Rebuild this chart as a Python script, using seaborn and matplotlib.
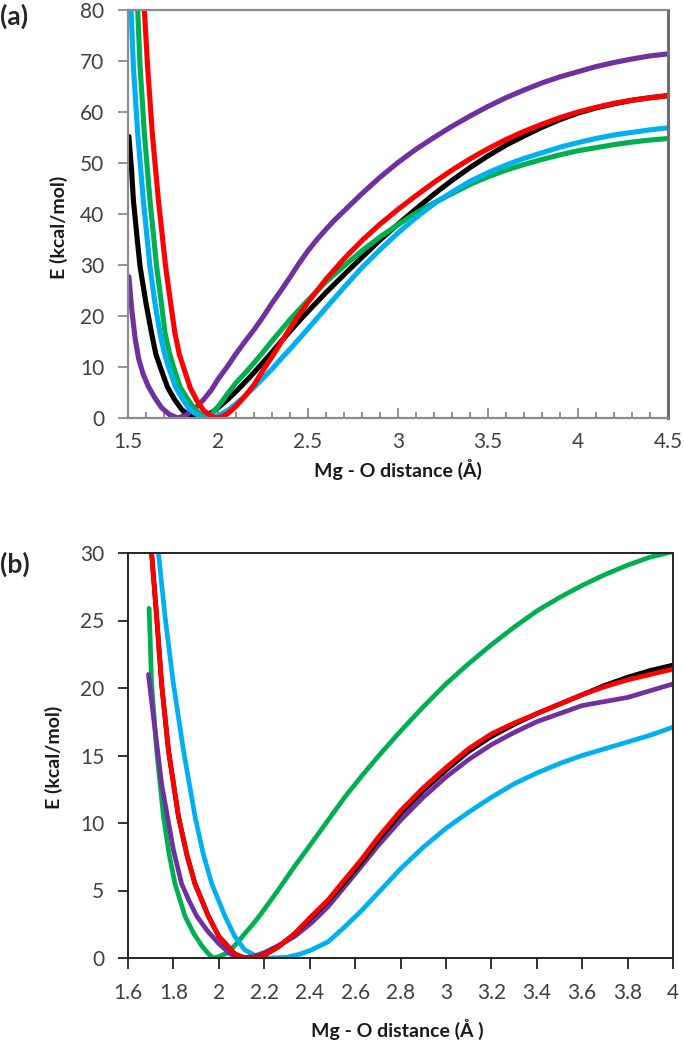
import matplotlib
matplotlib.use('Agg')

import matplotlib.pyplot as plt
from matplotlib.ticker import MultipleLocator, FuncFormatter
import seaborn as sns
import pandas as pd

# ---- panel (a): Mg - O distance (A) vs E (kcal/mol), x 1.5 .. 4.5 ----
a_black_x = [1.505, 1.52, 1.53, 1.55, 1.567, 1.60, 1.631, 1.655, 1.678, 1.72, 1.761, 1.80, 1.826, 1.86, 1.89,
             1.93, 1.97, 2.0, 2.05, 2.1, 2.15, 2.2, 2.25, 2.3, 2.35, 2.4, 2.45, 2.5, 2.6, 2.7, 2.8, 2.9, 3.0,
             3.1, 3.2, 3.3, 3.4, 3.5, 3.6, 3.7, 3.8, 3.9, 4.0, 4.1, 4.2, 4.3, 4.4, 4.5]
a_black_y = [55.2, 48.5, 42.7, 35.5, 29.7, 22.5, 16.6, 12.5, 10.1, 6.0, 3.5, 1.6, 0.9, 0.1, 0.0,
             0.4, 1.2, 2.0, 3.5, 5.2, 7.0, 8.9, 10.9, 12.9, 15.0, 17.0, 19.0, 20.9, 24.6, 28.1, 31.5, 34.9, 38.0,
             41.0, 43.9, 46.6, 49.1, 51.4, 53.5, 55.3, 57.0, 58.5, 59.8, 60.8, 61.6, 62.3, 62.8, 63.2]

a_purple_x = [1.505, 1.52, 1.54, 1.56, 1.585, 1.613, 1.65, 1.687, 1.73, 1.775, 1.82, 1.87, 1.92, 1.963,
              2.0, 2.05, 2.1, 2.15, 2.2, 2.25, 2.3, 2.35, 2.4, 2.45, 2.5, 2.55, 2.6, 2.65, 2.7, 2.8, 2.9,
              3.0, 3.1, 3.2, 3.3, 3.4, 3.5, 3.6, 3.7, 3.8, 3.9, 4.0, 4.1, 4.2, 4.3, 4.4, 4.5]
a_purple_y = [27.7, 21.5, 15.5, 11.5, 8.5, 6.2, 3.9, 2.0, 0.7, 0.0, 0.5, 1.8, 3.6, 5.5,
              7.6, 10.0, 12.6, 15.0, 17.3, 19.8, 22.5, 25.0, 27.6, 30.3, 32.8, 35.0, 37.0, 38.9, 40.6, 44.0,
              47.2, 50.1, 52.7, 55.0, 57.2, 59.2, 61.1, 62.8, 64.3, 65.7, 66.9, 67.9, 68.9, 69.7, 70.4,
              71.0, 71.4]

a_green_x = [1.554, 1.567, 1.591, 1.622, 1.659, 1.68, 1.706, 1.73, 1.752, 1.79, 1.835, 1.87, 1.90, 1.93,
             1.96, 2.0, 2.05, 2.1, 2.15, 2.2, 2.25, 2.3, 2.35, 2.4, 2.45, 2.5, 2.6, 2.7, 2.8, 2.9, 3.0, 3.1,
             3.2, 3.3, 3.4, 3.5, 3.6, 3.7, 3.8, 3.9, 4.0, 4.1, 4.2, 4.3, 4.4, 4.5]
a_green_y = [80.0, 68.9, 55.8, 42.7, 29.7, 24.0, 16.6, 12.8, 10.1, 6.0, 3.5, 1.8, 0.8, 0.1,
             0.6, 2.2, 4.6, 6.9, 8.8, 10.8, 12.9, 15.1, 17.2, 19.3, 21.2, 23.1, 26.7, 29.8, 32.8, 35.5, 37.9,
             40.2, 42.2, 44.0, 45.8, 47.3, 48.6, 49.7, 50.7, 51.6, 52.4, 53.0, 53.6, 54.1, 54.5, 54.8]

a_cyan_x = [1.517, 1.53, 1.554, 1.585, 1.622, 1.65, 1.678, 1.70, 1.724, 1.765, 1.807, 1.84, 1.872, 1.91,
            1.94, 1.98, 2.02, 2.06, 2.1, 2.15, 2.2, 2.25, 2.3, 2.35, 2.4, 2.45, 2.5, 2.6, 2.7, 2.8, 2.9, 3.0,
            3.1, 3.2, 3.3, 3.4, 3.5, 3.6, 3.7, 3.8, 3.9, 4.0, 4.1, 4.2, 4.3, 4.4, 4.5]
a_cyan_y = [80.0, 68.9, 55.8, 42.7, 29.7, 22.5, 16.6, 13.0, 10.1, 6.0, 3.5, 1.8, 0.9, 0.2,
            0.0, 0.2, 0.8, 1.6, 2.8, 4.3, 6.0, 7.8, 9.6, 11.6, 13.5, 15.5, 17.5, 21.6, 25.6, 29.5, 33.0, 36.3,
            39.3, 42.0, 44.3, 46.4, 48.1, 49.6, 50.9, 52.0, 53.1, 54.0, 54.8, 55.5, 56.0, 56.5, 56.9]

a_red_x = [1.591, 1.609, 1.635, 1.669, 1.709, 1.735, 1.761, 1.785, 1.807, 1.845, 1.881, 1.92, 1.965, 1.99,
           2.02, 2.056, 2.1, 2.148, 2.2, 2.24, 2.3, 2.35, 2.4, 2.45, 2.5, 2.6, 2.7, 2.8, 2.9, 3.0, 3.1, 3.2,
           3.3, 3.4, 3.5, 3.6, 3.7, 3.8, 3.9, 4.0, 4.1, 4.2, 4.3, 4.4, 4.5]
a_red_y = [80.0, 68.9, 55.8, 42.7, 29.7, 23.0, 16.6, 12.5, 10.1, 6.0, 3.5, 1.5, 0.3, 0.0,
           0.2, 0.9, 2.3, 4.2, 6.5, 8.8, 12.0, 14.8, 17.6, 20.2, 22.7, 27.2, 31.2, 34.8, 38.0, 40.9, 43.6,
           46.2, 48.6, 50.8, 52.8, 54.6, 56.2, 57.6, 58.9, 60.0, 60.9, 61.7, 62.3, 62.8, 63.2]

# ---- panel (b): x 1.6 .. 4.0 ----
b_green_x = [1.693, 1.704, 1.726, 1.756, 1.78, 1.807, 1.851, 1.89, 1.925, 1.955, 1.975, 2.0, 2.04, 2.08,
             2.114, 2.15, 2.187, 2.26, 2.334, 2.408, 2.481, 2.554, 2.63, 2.7, 2.8, 2.9, 3.0, 3.1, 3.2, 3.3,
             3.4, 3.5, 3.6, 3.7, 3.8, 3.9, 4.0]
b_green_y = [25.9, 20.3, 15.4, 10.5, 7.8, 5.5, 3.1, 1.8, 0.9, 0.3, 0.0, 0.1, 0.4, 1.1,
             1.8, 2.5, 3.3, 5.0, 6.8, 8.5, 10.2, 11.9, 13.5, 14.9, 16.8, 18.6, 20.3, 21.8, 23.2, 24.5,
             25.7, 26.7, 27.6, 28.4, 29.1, 29.7, 30.1]

b_cyan_x = [1.734, 1.763, 1.8, 1.844, 1.895, 1.93, 1.969, 2.027, 2.07, 2.114, 2.17, 2.23, 2.3, 2.36,
            2.408, 2.481, 2.554, 2.628, 2.7, 2.8, 2.9, 3.0, 3.1, 3.2, 3.3, 3.4, 3.5, 3.6, 3.7, 3.8, 3.9, 4.0]
b_cyan_y = [30.0, 25.3, 20.3, 15.4, 10.5, 7.8, 5.5, 3.1, 1.6, 0.6, 0.1, 0.0, 0.05, 0.3,
            0.6, 1.2, 2.3, 3.5, 4.8, 6.6, 8.2, 9.6, 10.8, 11.9, 12.9, 13.7, 14.4, 15.0, 15.5, 16.0, 16.5, 17.1]

b_purple_x = [1.69, 1.712, 1.748, 1.8, 1.836, 1.87, 1.903, 1.95, 1.998, 2.05, 2.1, 2.15, 2.2, 2.26,
              2.334, 2.408, 2.481, 2.55, 2.628, 2.7, 2.8, 2.9, 3.0, 3.1, 3.2, 3.3, 3.4, 3.5, 3.6, 3.7,
              3.8, 3.9, 4.0]
b_purple_y = [21.0, 17.9, 12.9, 8.0, 5.5, 4.2, 3.1, 2.0, 1.1, 0.3, 0.0, 0.1, 0.4, 0.9,
              1.6, 2.6, 3.8, 5.2, 6.8, 8.3, 10.2, 11.9, 13.4, 14.7, 15.8, 16.7, 17.5, 18.1, 18.7, 19.0,
              19.3, 19.8, 20.3]

b_black_x = [1.704, 1.726, 1.748, 1.778, 1.822, 1.86, 1.895, 1.954, 2.0, 2.027, 2.07, 2.114, 2.15, 2.187,
             2.26, 2.334, 2.408, 2.481, 2.554, 2.628, 2.7, 2.8, 2.9, 3.0, 3.1, 3.2, 3.3, 3.4, 3.5, 3.6,
             3.7, 3.8, 3.9, 4.0]
b_black_y = [30.0, 25.3, 20.3, 15.4, 10.5, 7.6, 5.5, 3.1, 1.6, 1.1, 0.3, 0.0, 0.05, 0.1,
             0.8, 1.8, 3.0, 4.2, 5.6, 7.1, 8.7, 10.7, 12.4, 13.9, 15.3, 16.4, 17.3, 18.1, 18.8, 19.5,
             20.2, 20.8, 21.3, 21.7]

b_red_x = [1.704, 1.726, 1.748, 1.778, 1.822, 1.86, 1.895, 1.954, 2.0, 2.027, 2.07, 2.114, 2.15, 2.187,
           2.26, 2.334, 2.408, 2.481, 2.554, 2.628, 2.7, 2.8, 2.9, 3.0, 3.1, 3.2, 3.3, 3.4, 3.5, 3.6,
           3.7, 3.8, 3.9, 4.0]
b_red_y = [30.0, 25.3, 20.3, 15.4, 10.5, 7.6, 5.5, 3.1, 1.6, 1.1, 0.3, 0.0, 0.05, 0.1,
           0.8, 1.8, 3.1, 4.3, 5.8, 7.3, 8.9, 10.9, 12.6, 14.1, 15.5, 16.6, 17.4, 18.1, 18.8, 19.5,
           20.1, 20.6, 21.0, 21.4]

BLACK = '#000000'
RED = '#ff0000'
GREEN = '#00b050'
CYAN = '#00b0f0'
PURPLE = '#7030a0'

sns.set_theme(style="white")
plt.rcParams['font.family'] = ['Lato', 'DejaVu Sans']

fig = plt.figure(figsize=(6.84, 10.5), dpi=100)
ax0 = fig.add_axes([128/684, 1 - 418/1050, 540/684, 408/1050])
ax1 = fig.add_axes([128/684, 1 - 958/1050, 545/684, 405/1050])

fmt = FuncFormatter(lambda v, p: '%g' % round(v, 2))
tick_col = '#404040'

# panel (a)
for xs, ys, c in [(a_black_x, a_black_y, BLACK), (a_purple_x, a_purple_y, PURPLE),
                  (a_green_x, a_green_y, GREEN), (a_cyan_x, a_cyan_y, CYAN),
                  (a_red_x, a_red_y, RED)]:
    sns.lineplot(x=xs, y=ys, color=c, lw=3.7, sort=False, ax=ax0)

ax0.set_xlim(1.5, 4.5)
ax0.set_ylim(0, 80)
ax0.xaxis.set_major_locator(MultipleLocator(0.5))
ax0.xaxis.set_minor_locator(MultipleLocator(0.1))
ax0.yaxis.set_major_locator(MultipleLocator(10))
ax0.xaxis.set_major_formatter(fmt)
ax0.yaxis.set_major_formatter(fmt)
ax0.tick_params(axis='x', which='major', direction='in', length=7, width=1.2, color='#808080',
                labelsize=15, labelcolor=tick_col, pad=10, bottom=True)
ax0.tick_params(axis='x', which='minor', direction='in', length=4, width=1.2, color='#808080', bottom=True)
ax0.tick_params(axis='y', direction='out', length=7, width=1.2, color='#808080',
                labelsize=15, labelcolor=tick_col, pad=10, left=True)
for s in ['left', 'bottom', 'top']:
    ax0.spines[s].set_color('#8c8c8c')
    ax0.spines[s].set_linewidth(1.6)
ax0.spines['right'].set_color('#6e6e6e')
ax0.spines['right'].set_linewidth(2.2)
ax0.set_xlabel('Mg - O distance (Å)', fontsize=14, fontweight='bold', color='#1a1a1a')
ax0.set_ylabel('E (kcal/mol)', fontsize=14, fontweight='bold', color='#1a1a1a')
ax0.xaxis.set_label_coords(0.5, -0.10)
ax0.yaxis.set_label_coords(-0.112, 0.468)

# panel (b)
for xs, ys, c in [(b_green_x, b_green_y, GREEN), (b_cyan_x, b_cyan_y, CYAN),
                  (b_purple_x, b_purple_y, PURPLE), (b_black_x, b_black_y, BLACK),
                  (b_red_x, b_red_y, RED)]:
    sns.lineplot(x=xs, y=ys, color=c, lw=3.4, sort=False, ax=ax1)

ax1.set_xlim(1.6, 4.0)
ax1.set_ylim(0, 30)
ax1.xaxis.set_major_locator(MultipleLocator(0.2))
ax1.yaxis.set_major_locator(MultipleLocator(5))
ax1.xaxis.set_major_formatter(fmt)
ax1.yaxis.set_major_formatter(fmt)
ax1.tick_params(axis='x', direction='out', length=8, width=1.3, color='#222222',
                labelsize=15, labelcolor=tick_col, pad=10, bottom=True)
ax1.tick_params(axis='y', direction='out', length=7, width=1.3, color='#222222',
                labelsize=15, labelcolor=tick_col, pad=10, left=True)
for s in ax1.spines.values():
    s.set_color('#222222')
    s.set_linewidth(1.4)
ax1.set_xlabel('Mg - O distance (Å )', fontsize=14, fontweight='bold', color='#1a1a1a')
ax1.set_ylabel('E (kcal/mol)', fontsize=14, fontweight='bold', color='#1a1a1a')
ax1.xaxis.set_label_coords(0.495, -0.15)
ax1.yaxis.set_label_coords(-0.12, 0.496)

fig.text(0.0, 1 - 16/1050, '(a)', fontsize=19, fontweight='bold', va='center', ha='left')
fig.text(0.0, 1 - 564/1050, '(b)', fontsize=19, fontweight='bold', va='center', ha='left')

fig.savefig('out.png', dpi=100)
